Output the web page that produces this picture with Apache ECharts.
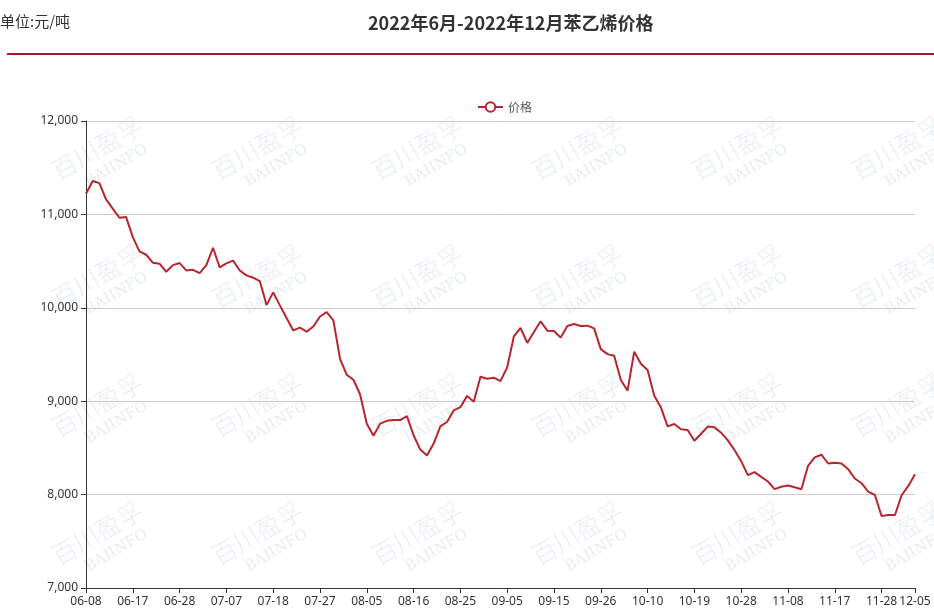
<!DOCTYPE html>
<html>
<head>
<meta charset="utf-8">
<script src="https://cdn.jsdelivr.net/npm/echarts@6/dist/echarts.min.js"></script>
<style>
html,body{margin:0;padding:0;background:#fff;}
#chart{width:934px;height:613px;}
</style>
</head>
<body>
<div id="chart"></div>
<script>
var dates = [
"06-08","06-09","06-10","06-13","06-14","06-15","06-16","06-17","06-20","06-21","06-22","06-23","06-24","06-27","06-28","06-29","06-30",
"07-01","07-04","07-05","07-06","07-07","07-08","07-11","07-12","07-13","07-14","07-15","07-18","07-19","07-20","07-21","07-22","07-25","07-26","07-27","07-28","07-29",
"08-01","08-02","08-03","08-04","08-05","08-08","08-09","08-10","08-11","08-12","08-15","08-16","08-17","08-18","08-19","08-22","08-23","08-24","08-25","08-26","08-29","08-30","08-31",
"09-01","09-02","09-05","09-06","09-07","09-08","09-09","09-13","09-14","09-15","09-16","09-19","09-20","09-21","09-22","09-23","09-26","09-27","09-28","09-29","09-30",
"10-08","10-09","10-10","10-11","10-12","10-13","10-14","10-17","10-18","10-19","10-20","10-21","10-24","10-25","10-26","10-27","10-28","10-31",
"11-01","11-02","11-03","11-04","11-07","11-08","11-09","11-10","11-11","11-14","11-15","11-16","11-17","11-18","11-21","11-22","11-23","11-24","11-25","11-28","11-29","11-30",
"12-01","12-02","12-05"
];
var prices = [
11222,11357,11335,11160,11061,10964,10971,10757,10604,10568,10483,10472,10386,10457,10479,10400,10407,
10371,10457,10643,10432,10475,10505,10400,10347,10322,10286,10029,10165,10026,9890,9758,9787,9744,9800,9907,9954,9865,
9454,9283,9230,9072,8758,8630,8760,8790,8798,8798,8840,8635,8482,8418,8546,8730,8777,8901,8936,9057,8993,9262,9241,
9252,9216,9362,9695,9784,9624,9741,9855,9755,9752,9681,9805,9826,9805,9809,9780,9557,9504,9486,9227,9113,
9529,9400,9335,9058,8932,8731,8756,8699,8692,8577,8652,8728,8720,8663,8581,8477,8358,8208,
8240,8190,8140,8059,8084,8097,8079,8057,8308,8398,8427,8333,8341,8333,8272,8172,8122,8032,7996,7771,7781,7781,
7993,8093,8219
];
var seriesName = "价格";
var titleText = "2022年6月-2022年12月苯乙烯价格";
var unitText = "单位:元/吨";
var yMin = 7000, yMax = 12000, yStep = 1000;

var chart = echarts.init(document.getElementById('chart'), null, {renderer:'canvas'});
var lastIdx = dates.length - 1;
function showIdx(i){ return i % 7 === 0 || i === lastIdx; }

// watermark
var wm = [];
var wmX = [101, 261, 421, 581, 741, 901];
var wmY = [155, 283, 412, 540];
var wmColor = 'rgba(190,207,224,0.38)';
wmY.forEach(function(cy){
  wmX.forEach(function(cx){
    wm.push({
      type:'group', x:cx, y:cy, rotation:Math.PI/6, silent:true, z:0,
      children:[
        {type:'text', x:0, y:-8, style:{text:'百川盈孚', fill:wmColor, font:'300 25px "Noto Sans CJK SC"', align:'center', verticalAlign:'middle'}},
        {type:'text', x:8, y:17, style:{text:'BAIINFO', fill:wmColor, font:'15px "DejaVu Serif"', align:'center', verticalAlign:'middle'}}
      ]
    });
  });
});
wm.push({type:'rect', shape:{x:7, y:53, width:927, height:2}, style:{fill:'#9e1a2e'}, silent:true});
wm.push({type:'text', x:0, y:21, style:{text:unitText, fill:'#333', font:'15px "Noto Sans CJK SC"', verticalAlign:'middle'}});

chart.setOption({
  backgroundColor:'#fff',
  animation:false,
  title:{
    text:titleText, left:363, top:9,
    textStyle:{fontSize:18, fontWeight:'bold', color:'#333', fontFamily:'"Noto Sans CJK SC"'}
  },
  graphic: wm,
  legend:{
    data:[seriesName], left:472, top:96, itemWidth:25, itemHeight:12, itemGap:10,
    textStyle:{fontSize:12, color:'#555', fontFamily:'"Noto Sans CJK SC"'}
  },
  grid:{left:86, right:19, top:121, bottom:25, containLabel:false},
  xAxis:{
    type:'category', data:dates, boundaryGap:false,
    axisLine:{lineStyle:{color:'#333', width:1}},
    axisTick:{interval:function(i){return showIdx(i);}, lineStyle:{color:'#333'}},
    axisLabel:{interval:function(i){return showIdx(i);}, color:'#333', fontSize:12, fontFamily:'"Noto Sans"', margin:8},
    splitLine:{show:false}
  },
  yAxis:{
    type:'value', min:yMin, max:yMax, interval:yStep,
    axisLine:{show:true, lineStyle:{color:'#333', width:1}},
    axisTick:{show:true, lineStyle:{color:'#333'}},
    axisLabel:{color:'#333', fontSize:12, fontFamily:'"Noto Sans"', formatter:function(v){return v.toLocaleString('en-US');}},
    splitLine:{lineStyle:{color:'#ccc'}}
  },
  series:[{
    name:seriesName, type:'line', data:prices,
    symbol:'emptyCircle', symbolSize:6, showSymbol:false,
    lineStyle:{color:'#b8262d', width:2},
    itemStyle:{color:'#b8262d'},
    z:3
  }]
});
</script>
</body>
</html>
